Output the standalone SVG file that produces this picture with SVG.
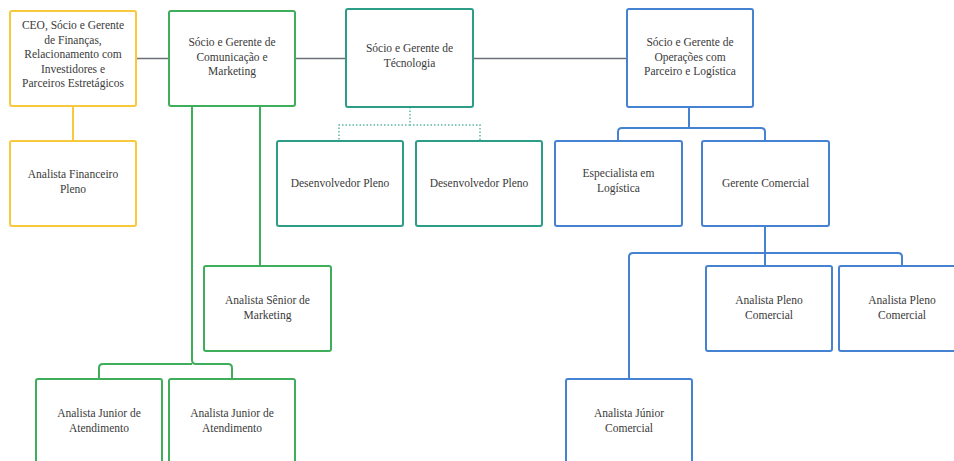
<svg xmlns="http://www.w3.org/2000/svg" width="954" height="461" viewBox="0 0 954 461">
<style>
.box{fill:#fff;stroke-width:2;}
.y{stroke:#f8c93c;}
.g{stroke:#3fae5a;}
.t{stroke:#2c9d86;}
.b{stroke:#4682d2;}
.c{fill:none;stroke-width:2;stroke-linejoin:round;}
.dot{fill:none;stroke:#5bb8a6;stroke-width:1.5;stroke-dasharray:1.5 2;}
.gray{stroke:#6b6f78;stroke-width:1.5;fill:none;}
text{font-family:"Liberation Serif","DejaVu Serif",serif;font-size:11.5px;fill:#3a3a3a;text-anchor:middle;}
</style>
<rect width="954" height="461" fill="#fff"/>
<g id="connectors">
<path class="gray" d="M136 58.5H169M295 58.5H346M473 58.5H627"/>
<path class="c y" d="M73 106V141"/>
<path class="c g" d="M192 106V360Q192 364 196 364H228Q232 364 232 368V379M192 364H103Q99 364 99 368V379M260 106V266"/>
<path class="dot" d="M410 107V125H480V141M410 125H339V141"/>
<path class="c b" d="M689 107V128H761Q765 128 765 132V141M689 128H622Q618 128 618 132V141"/>
<path class="c b" d="M765 226V253H898Q902 253 902 257V266M765 253V266M765 253H633Q629 253 629 257V379"/>
</g>
<g id="ceo"><rect class="box y" x="10" y="11" width="126" height="95" rx="2"/>
<text x="73" y="29">CEO, Sócio e Gerente</text><text x="73" y="43.5">de Finanças,</text><text x="73" y="58">Relacionamento com</text><text x="73" y="72.5">Investidores e</text><text x="73" y="87">Parceiros Estretágicos</text></g>
<g id="fin"><rect class="box y" x="10" y="141" width="126" height="85" rx="2"/>
<text x="73" y="178">Analista Financeiro</text><text x="73" y="193">Pleno</text></g>
<g id="com"><rect class="box g" x="169" y="11" width="126" height="95" rx="2"/>
<text x="232" y="46">Sócio e Gerente de</text><text x="232" y="60.5">Comunicação e</text><text x="232" y="75">Marketing</text></g>
<g id="senior"><rect class="box g" x="204" y="266" width="127" height="85" rx="2"/>
<text x="267.5" y="304">Analista Sênior de</text><text x="267.5" y="318.5">Marketing</text></g>
<g id="jr1"><rect class="box g" x="36" y="379" width="126" height="90" rx="2"/>
<text x="99" y="417">Analista Junior de</text><text x="99" y="431.5">Atendimento</text></g>
<g id="jr2"><rect class="box g" x="169" y="379" width="126" height="90" rx="2"/>
<text x="232" y="417">Analista Junior de</text><text x="232" y="431.5">Atendimento</text></g>
<g id="tec"><rect class="box t" x="346" y="9" width="127" height="98" rx="2"/>
<text x="409.5" y="52">Sócio e Gerente de</text><text x="409.5" y="66.5">Técnologia</text></g>
<g id="dev1"><rect class="box t" x="277" y="141" width="126" height="85" rx="2"/>
<text x="340" y="187">Desenvolvedor Pleno</text></g>
<g id="dev2"><rect class="box t" x="416" y="141" width="126" height="85" rx="2"/>
<text x="479" y="187">Desenvolvedor Pleno</text></g>
<g id="ops"><rect class="box b" x="627" y="9" width="126" height="98" rx="2"/>
<text x="690" y="46">Sócio e Gerente de</text><text x="690" y="60.5">Operações com</text><text x="690" y="75">Parceiro e Logística</text></g>
<g id="esp"><rect class="box b" x="555" y="141" width="127" height="85" rx="2"/>
<text x="618.5" y="177">Especialista em</text><text x="618.5" y="191.5">Logística</text></g>
<g id="ger"><rect class="box b" x="702" y="141" width="127" height="85" rx="2"/>
<text x="765.5" y="187">Gerente Comercial</text></g>
<g id="pleno1"><rect class="box b" x="706" y="266" width="126" height="85" rx="2"/>
<text x="769" y="304">Analista Pleno</text><text x="769" y="318.5">Comercial</text></g>
<g id="pleno2"><rect class="box b" x="839" y="266" width="126" height="85" rx="2"/>
<text x="902" y="304">Analista Pleno</text><text x="902" y="318.5">Comercial</text></g>
<g id="jrcom"><rect class="box b" x="566" y="379" width="126" height="90" rx="2"/>
<text x="629" y="417">Analista Júnior</text><text x="629" y="431.5">Comercial</text></g>
</svg>
